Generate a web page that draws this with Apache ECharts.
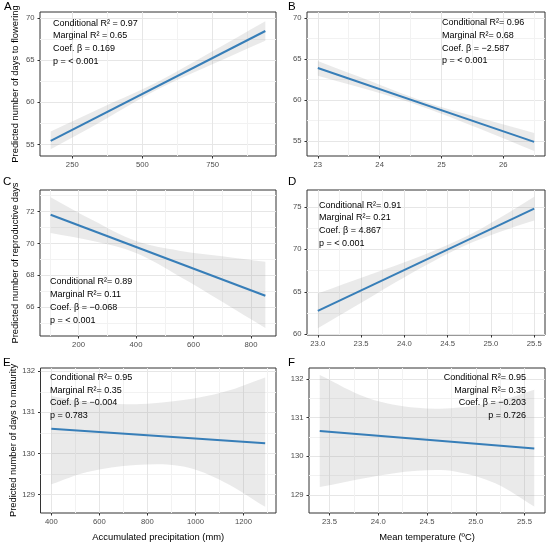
<!DOCTYPE html>
<html>
<head>
<meta charset="utf-8">
<script src="https://cdn.jsdelivr.net/npm/echarts@6/dist/echarts.min.js"></script>
<style>
  html, body { margin: 0; padding: 0; background: #fff; }
  #main { width: 550px; height: 547px; }
</style>
</head>
<body>
<div id="main"></div>
<script>
// A - days to flowering vs accumulated precipitation
const aLineX = [173, 938]
const aLineY = [55.45, 68.45]
const aBandX = [173, 360, 550, 745, 938]
const aBandLo = [54.45, 57.85, 61.45, 64.45, 67.3]
const aBandHi = [56.55, 59.45, 62.35, 65.95, 69.6]
const aXTicks = [250, 500, 750]
const aYTicks = [55, 60, 65, 70]
const aText = ['Conditional R² = 0.97', 'Marginal R² = 0.65', 'Coef. β = 0.169', 'p = < 0.001']

// B - days to flowering vs mean temperature
const bLineX = [23, 26.5]
const bLineY = [63.9, 54.87]
const bBandX = [23, 23.9, 24.7, 25.6, 26.5]
const bBandLo = [62.95, 61.05, 59.15, 56.55, 53.75]
const bBandHi = [64.75, 62.15, 59.85, 57.85, 55.95]
const bXTicks = [23, 24, 25, 26]
const bYTicks = [55, 60, 65, 70]
const bText = ['Conditional R²= 0.96', 'Marginal R²= 0.68', 'Coef. β = −2.587', 'p = < 0.001']

// C - reproductive days vs accumulated precipitation
const cLineX = [103, 850]
const cLineY = [71.8, 66.72]
const cBandX = [103, 250, 400, 550, 700, 850]
const cBandLo = [70.65, 70.15, 69.4, 67.95, 66.35, 64.7]
const cBandHi = [72.9, 71.45, 70.15, 69.55, 69.2, 68.85]
const cXTicks = [200, 400, 600, 800]
const cYTicks = [66, 68, 70, 72]
const cText = ['Conditional R²= 0.89', 'Marginal R²= 0.11', 'Coef. β = −0.068', 'p = < 0.001']

// D - reproductive days vs mean temperature
const dLineX = [23, 25.5]
const dLineY = [62.75, 74.8]
const dBandX = [23, 23.6, 24.2, 24.7, 25.1, 25.5]
const dBandLo = [60.7, 64.3, 67.85, 70.45, 72.05, 73.4]
const dBandHi = [64.8, 67.0, 69.25, 71.45, 73.7, 76.2]
const dXTicks = [23, 23.5, 24, 24.5, 25, 25.5]
const dYTicks = [60, 65, 70, 75]
const dText = ['Conditional R²= 0.91', 'Marginal R²= 0.21', 'Coef. β = 4.867', 'p = < 0.001']

// E - days to maturity vs accumulated precipitation
const eLineX = [400, 1290]
const eLineY = [130.6, 130.25]
const eBandX = [400, 550, 750, 950, 1120, 1290]
const eBandLo = [129.25, 129.55, 129.72, 129.68, 129.3, 128.7]
const eBandHi = [131.4, 131.25, 131.2, 131.3, 131.5, 131.85]
const eXTicks = [400, 600, 800, 1000, 1200]
const eYTicks = [129, 130, 131, 132]
const eText = ['Conditional R²= 0.95', 'Marginal R²= 0.35', 'Coef. β = −0.004', 'p = 0.783']

// F - days to maturity vs mean temperature
const fLineX = [23.4, 25.6]
const fLineY = [130.65, 130.2]
const fBandX = [23.4, 23.9, 24.4, 24.8, 25.2, 25.6]
const fBandLo = [129.2, 129.45, 129.62, 129.6, 129.3, 128.7]
const fBandHi = [132.1, 131.5, 131.25, 131.25, 131.4, 131.72]
const fXTicks = [23.5, 24, 24.5, 25, 25.5]
const fYTicks = [129, 130, 131, 132]
const fText = ['Conditional R²= 0.95', 'Marginal R²= 0.35', 'Coef. β = −0.203', 'p = 0.726']

const FONT = '"Liberation Sans", Arial, Helvetica, sans-serif'
const LINE_COLOR = '#377eb8'
const BAND_COLOR = 'rgba(150,150,150,0.2)'
const MAJOR = '#e6e6e6'
const MINOR = '#f2f2f2'

const panels = [
  { tag: 'A', grid: { left: 40, top: 12, width: 236, height: 144 }, xr: [135, 976], yr: [53.65, 70.7],
    lx: aLineX, ly: aLineY, bx: aBandX, lo: aBandLo, hi: aBandHi, xt: aXTicks, yt: aYTicks, txt: aText,
    yName: 'Predicted number of days to flowering', yGap: 20, text: { x: 53, y: 16.7, align: 'left' }, tagPos: [4, 7] },
  { tag: 'B', grid: { left: 307, top: 12, width: 238, height: 144 }, xr: [22.825, 26.675], yr: [53.15, 70.75],
    lx: bLineX, ly: bLineY, bx: bBandX, lo: bBandLo, hi: bBandHi, xt: bXTicks, yt: bYTicks, txt: bText,
    text: { x: 442, y: 16.4, align: 'left' }, tagPos: [288, 7] },
  { tag: 'C', grid: { left: 40, top: 190, width: 236, height: 146 }, xr: [66, 887], yr: [64.2, 73.35],
    lx: cLineX, ly: cLineY, bx: cBandX, lo: cBandLo, hi: cBandHi, xt: cXTicks, yt: cYTicks, txt: cText,
    yName: 'Predicted number of reproductive days', yGap: 20, text: { x: 50, y: 275.6, align: 'left' }, tagPos: [3, 182] },
  { tag: 'D', grid: { left: 307, top: 190, width: 238, height: 145 }, xr: [22.875, 25.625], yr: [59.9, 77.0],
    lx: dLineX, ly: dLineY, bx: dBandX, lo: dBandLo, hi: dBandHi, xt: dXTicks, yt: dYTicks, txt: dText,
    xDec: 1, text: { x: 319, y: 198.7, align: 'left' }, tagPos: [288, 182] },
  { tag: 'E', grid: { left: 40.5, top: 368, width: 235.5, height: 145 }, xr: [355, 1335], yr: [128.55, 132.08],
    lx: eLineX, ly: eLineY, bx: eBandX, lo: eBandLo, hi: eBandHi, xt: eXTicks, yt: eYTicks, txt: eText,
    yName: 'Predicted number of days to maturity', yGap: 20.5, xName: 'Accumulated precipitation (mm)',
    text: { x: 50, y: 371, align: 'left' }, tagPos: [3, 362.5] },
  { tag: 'F', grid: { left: 309, top: 368, width: 236, height: 145 }, xr: [23.29, 25.71], yr: [128.53, 132.28],
    lx: fLineX, ly: fLineY, bx: fBandX, lo: fBandLo, hi: fBandHi, xt: fXTicks, yt: fYTicks, txt: fText,
    xDec: 1, xName: 'Mean temperature (ºC)', text: { x: 526, y: 371, align: 'right' }, tagPos: [288, 362.5] },
]

// major + minor grid positions (ggplot puts minor lines halfway between breaks)
const gridValues = (ticks, range) => {
  const step = ticks[1] - ticks[0]
  const vals = []
  for (let v = ticks[0] - step / 2; v <= ticks[ticks.length - 1] + step / 2 + 1e-9; v += step / 2) {
    const r = Math.round(v * 1000) / 1000
    if (r > range[0] && r < range[1]) vals.push(r)
  }
  return vals
}
const gridColors = (vals, ticks) => vals.map(v => ticks.some(t => Math.abs(t - v) < 1e-6) ? MAJOR : MINOR)

const grids = [], xAxes = [], yAxes = [], series = [], graphics = []

panels.forEach((p, i) => {
  grids.push(Object.assign({ show: true, borderColor: '#333', borderWidth: 1, backgroundColor: '#fff', containLabel: false }, p.grid))
  const xv = gridValues(p.xt, p.xr)
  const yv = gridValues(p.yt, p.yr)
  // main axes: labels and ticks
  xAxes.push({
    type: 'value', gridIndex: i, min: p.xr[0], max: p.xr[1],
    axisLine: { show: false },
    axisTick: { show: true, length: 2.5, lineStyle: { color: '#333', width: 1 }, customValues: p.xt },
    axisLabel: { customValues: p.xt, color: '#4d4d4d', fontFamily: FONT, fontSize: 7.7, margin: 4.5,
      formatter: v => p.xDec ? v.toFixed(p.xDec) : String(v) },
    splitLine: { show: false },
    name: p.xName || '', nameLocation: 'middle', nameGap: 20,
    nameTextStyle: { color: '#000', fontFamily: FONT, fontSize: 9.4 },
  })
  yAxes.push({
    type: 'value', gridIndex: i, min: p.yr[0], max: p.yr[1],
    axisLine: { show: false },
    axisTick: { show: true, length: 2.5, lineStyle: { color: '#333', width: 1 }, customValues: p.yt },
    axisLabel: { customValues: p.yt, color: '#4d4d4d', fontFamily: FONT, fontSize: 7.7, margin: 5.5 },
    splitLine: { show: false },
    name: p.yName || '', nameLocation: 'middle', nameGap: p.yGap || 20,
    nameTextStyle: { color: '#000', fontFamily: FONT, fontSize: 9.4 },
  })
  // helper axes: only carry the grid lines
  xAxes.push({
    type: 'value', gridIndex: i, min: p.xr[0], max: p.xr[1], position: 'top',
    axisLine: { show: false }, axisLabel: { show: false },
    axisTick: { show: false, customValues: xv },
    splitLine: { show: true, lineStyle: { color: gridColors(xv, p.xt), width: 1 } },
  })
  yAxes.push({
    type: 'value', gridIndex: i, min: p.yr[0], max: p.yr[1], position: 'right',
    axisLine: { show: false }, axisLabel: { show: false },
    axisTick: { show: false, customValues: yv },
    splitLine: { show: true, lineStyle: { color: gridColors(yv, p.yt), width: 1 } },
  })

  const ax = i * 2
  // confidence band as one smoothed polygon; end corners doubled so they stay sharp
  series.push({
    type: 'custom', xAxisIndex: ax, yAxisIndex: ax, silent: true, z: 2,
    data: p.bx.map((x, k) => [x, p.lo[k], p.hi[k]]),
    encode: { x: 0, y: [1, 2] },
    renderItem: (params, api) => {
      if (params.dataIndex !== 0) return
      const n = p.bx.length
      const pts = []
      p.bx.forEach((x, k) => pts.push(api.coord([x, p.hi[k]])))
      pts.push(api.coord([p.bx[n - 1], p.hi[n - 1]]))
      for (let k = n - 1; k >= 0; k--) pts.push(api.coord([p.bx[k], p.lo[k]]))
      pts.splice(n + 1, 0, api.coord([p.bx[n - 1], p.lo[n - 1]]))
      pts.push(api.coord([p.bx[0], p.lo[0]]))
      pts.unshift(api.coord([p.bx[0], p.hi[0]]))
      return { type: 'polygon', shape: { points: pts, smooth: 0.35 }, style: { fill: BAND_COLOR } }
    },
  })
  // fitted line
  series.push({
    type: 'line', xAxisIndex: ax, yAxisIndex: ax, z: 3, silent: true,
    data: p.lx.map((x, k) => [x, p.ly[k]]),
    showSymbol: false, symbol: 'none',
    lineStyle: { color: LINE_COLOR, width: 2 },
  })

  graphics.push({
    type: 'text', x: p.text.x, y: p.text.y, z: 10,
    style: { text: p.txt.join('\n'), fill: '#000', font: '9px ' + FONT, lineHeight: 12.7,
      align: p.text.align, verticalAlign: 'top' },
  })
  graphics.push({
    type: 'text', x: p.tagPos[0], y: p.tagPos[1], z: 10,
    style: { text: p.tag, fill: '#000', font: '11.5px ' + FONT, align: 'left', verticalAlign: 'middle' },
  })
})

const chart = echarts.init(document.getElementById('main'), null, { renderer: 'canvas' })
chart.setOption({
  animation: false,
  backgroundColor: '#fff',
  grid: grids,
  xAxis: xAxes,
  yAxis: yAxes,
  series: series,
  graphic: graphics,
})
</script>
</body>
</html>
